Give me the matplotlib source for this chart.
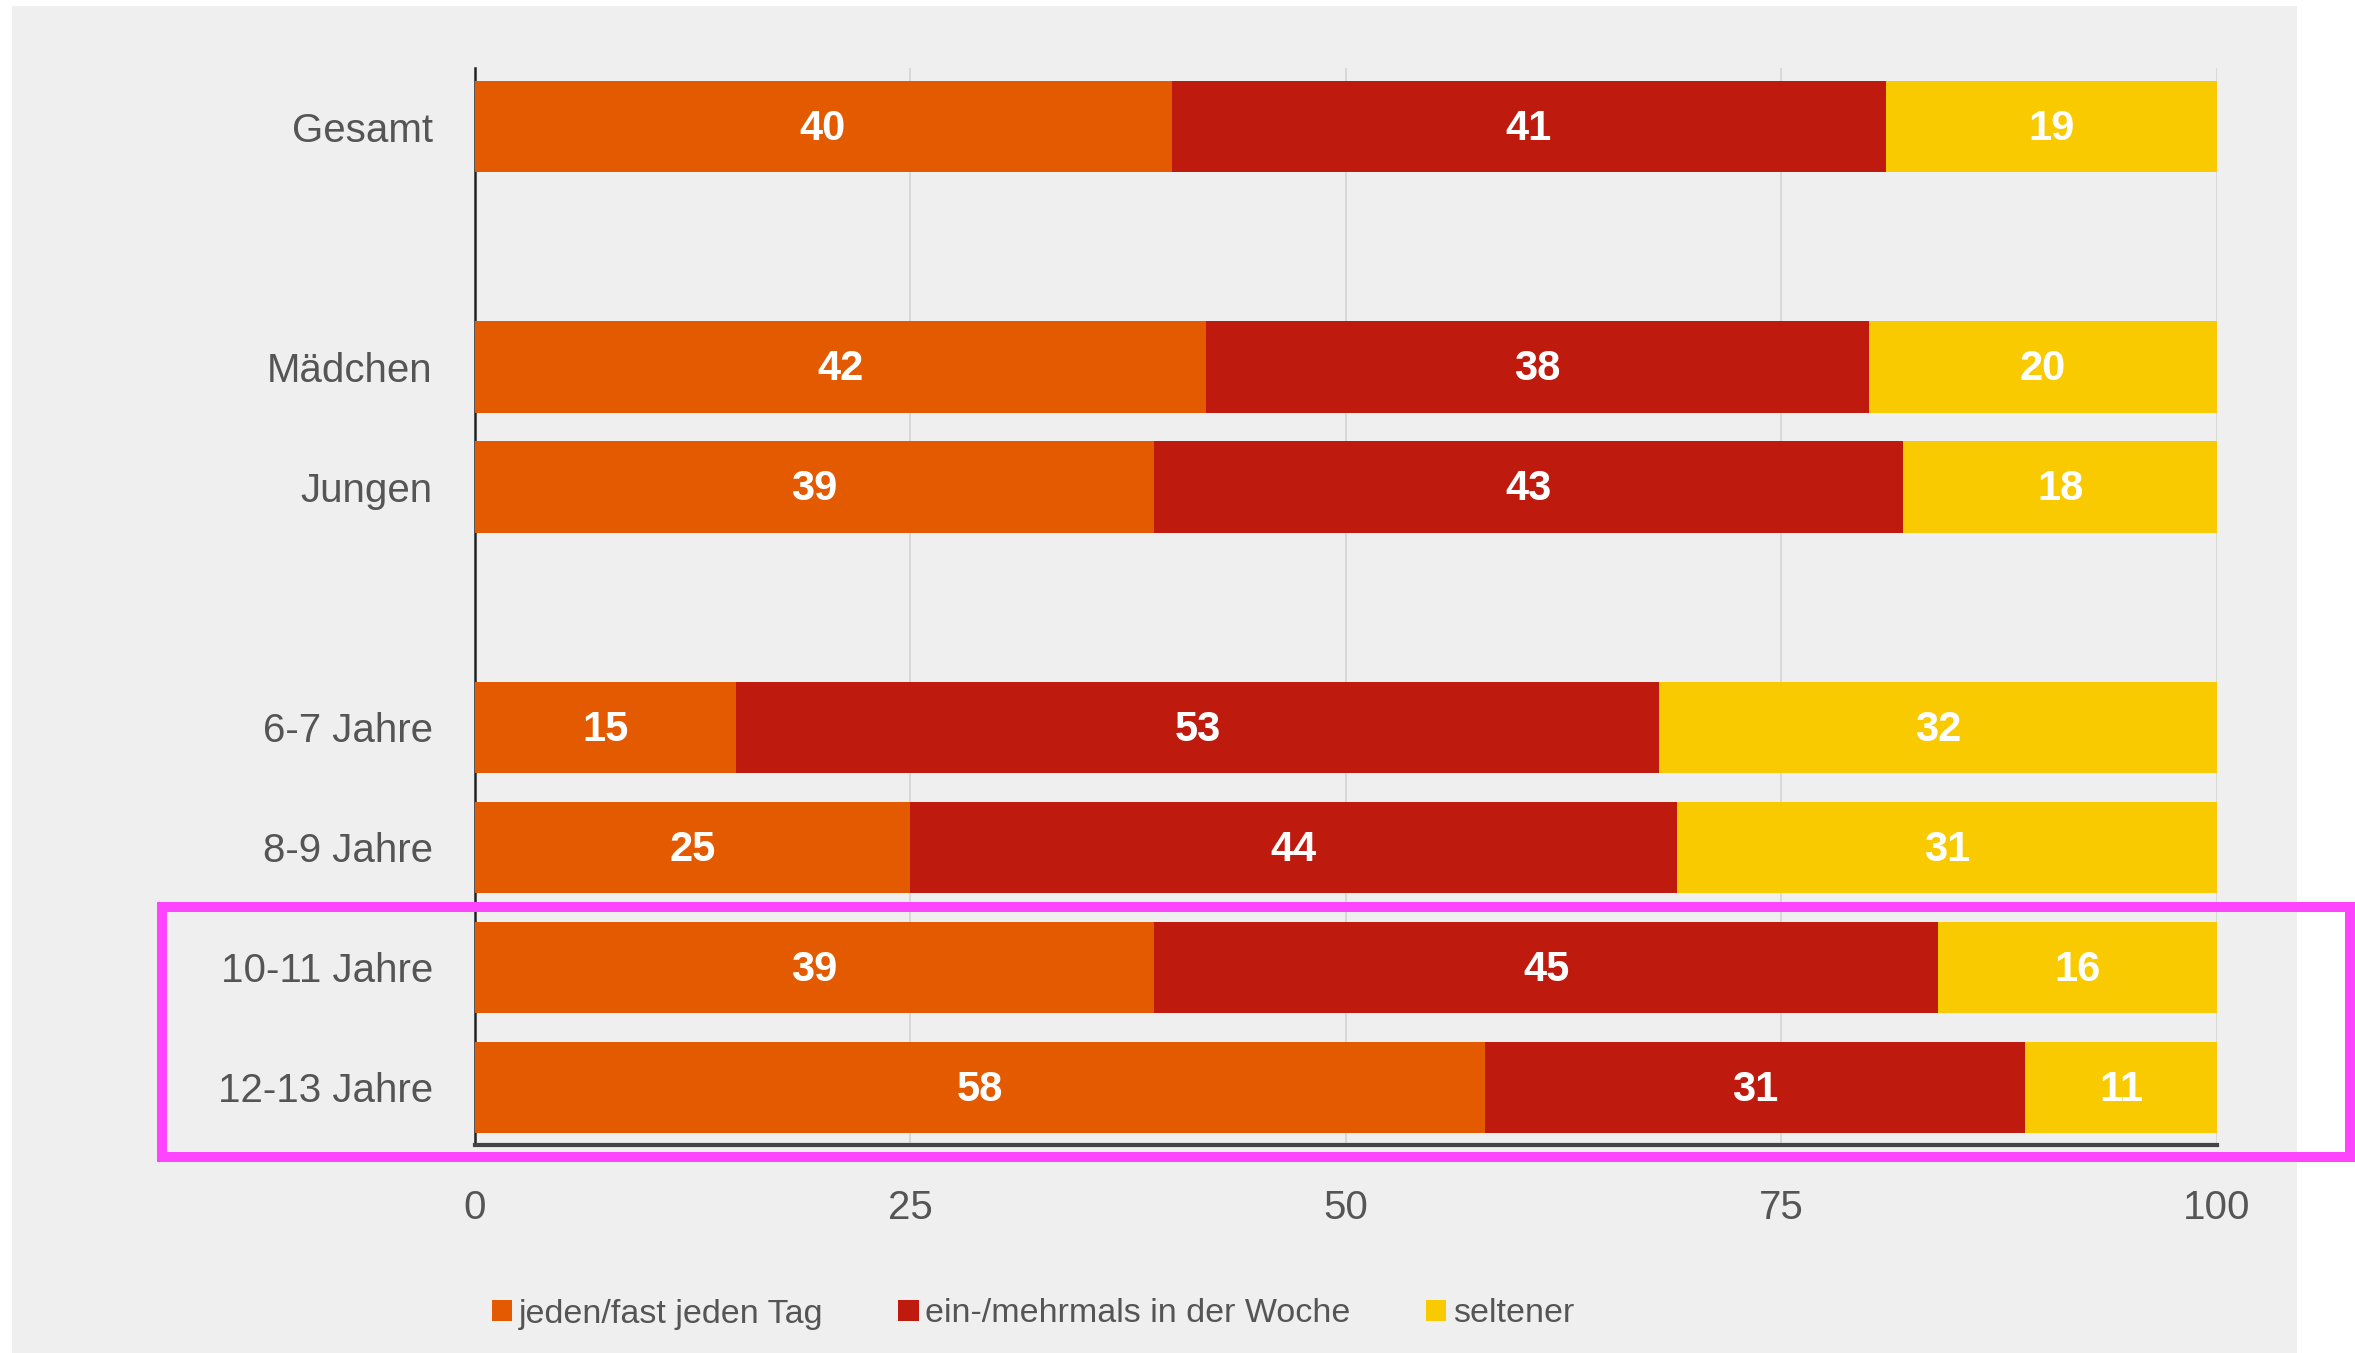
import numpy as np
import matplotlib.pyplot as plt
from matplotlib.patches import Rectangle, Patch

plt.rcParams['font.family'] = ['Liberation Sans', 'DejaVu Sans']

# data
groups = [["Gesamt"], ["Mädchen", "Jungen"],
          ["6-7 Jahre", "8-9 Jahre", "10-11 Jahre", "12-13 Jahre"]]
series_names = ["jeden/fast jeden Tag", "ein-/mehrmals in der Woche", "seltener"]
daily = [40, 42, 39, 15, 25, 39, 58]
weekly = [41, 38, 43, 53, 44, 45, 31]
rarely = [19, 20, 18, 32, 31, 16, 11]
ticks = [0, 25, 50, 75, 100]

colors = ['#e35a00', '#bf1a0e', '#f9ca00']
grey_txt = '#555555'

# row positions: one empty slot between groups
labels, ypos = [], []
pos = 0
for g in groups:
    for name in g:
        labels.append(name)
        ypos.append(pos)
        pos += 1
    pos += 1
ypos = np.array(ypos)

fig = plt.figure(figsize=(23.55, 13.53), dpi=100, facecolor='white')
# grey panel behind the chart
fig.patches.append(Rectangle((12 / 2355, 0), (2297 - 12) / 2355, 1 - 6 / 1353,
                             transform=fig.transFigure, facecolor='#efefef',
                             edgecolor='none', zorder=-10))

ax = fig.add_axes([474.5 / 2355, 1 - 1145 / 1353, (2217 - 474.5) / 2355, (1145 - 68) / 1353])
ax.set_facecolor('none')

left = np.zeros(len(daily))
for vals, col in zip([daily, weekly, rarely], colors):
    vals = np.array(vals)
    ax.barh(ypos, vals, left=left, height=0.76, color=col, zorder=3)
    for y, l, v in zip(ypos, left, vals):
        ax.text(l + v / 2, y + 0.02, str(v), ha='center', va='center', color='white',
                fontsize=30, fontweight='bold', zorder=4)
    left = left + vals

ax.set_xlim(0, 100)
ax.set_ylim(ypos.max() + 0.48, -0.49)
ax.set_xticks(ticks)
ax.set_xticklabels([str(t) for t in ticks])
ax.set_yticks(ypos)
ax.set_yticklabels(labels)
ax.tick_params(axis='both', length=0, labelsize=29, labelcolor=grey_txt)
ax.tick_params(axis='x', pad=32)
ax.tick_params(axis='y', pad=30)
ax.xaxis.grid(True, color='#d6d6d6', linewidth=1.3, zorder=0)
ax.set_axisbelow(True)

for s in ['top', 'right']:
    ax.spines[s].set_visible(False)
ax.spines['left'].set_color('#222222')
ax.spines['left'].set_linewidth(1.8)
ax.spines['bottom'].set_color('#444444')
ax.spines['bottom'].set_linewidth(3)

handles = [Patch(facecolor=c, edgecolor='none') for c in colors]
fig.legend(handles, series_names, loc='center left',
           bbox_to_anchor=(478 / 2355, 1 - 1314 / 1353), ncol=3, frameon=False,
           fontsize=24.5, labelcolor=grey_txt, handlelength=0.6, handleheight=0.6,
           handletextpad=0.2, columnspacing=2.2, borderaxespad=0)

# highlight box
fig.patches.append(Rectangle((162 / 2355, 1 - 1157 / 1353), (2350 - 162) / 2355,
                             (1157 - 907) / 1353, transform=fig.transFigure,
                             fill=False, edgecolor='#ff44ff', linewidth=7.2, zorder=10))

fig.savefig('out.png', dpi=100, facecolor=fig.get_facecolor())
